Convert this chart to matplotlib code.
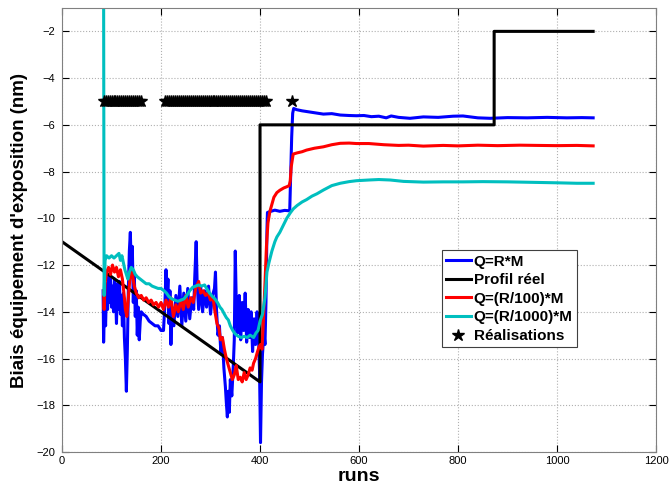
import matplotlib
matplotlib.use("Agg")
import matplotlib.pyplot as plt

plt.rcParams['font.family'] = ['Liberation Sans', 'DejaVu Sans']

# Q=R*M
blue_x = [83, 84, 86, 88, 90, 92, 94, 96, 98, 100, 102, 104, 106, 108, 110, 112, 114, 116, 118, 120,
          122, 124, 126, 128, 130, 132, 134, 136, 138, 140, 142, 144, 146, 148, 150, 152, 154, 156, 158, 160,
          164, 170, 176, 182, 188, 194, 200, 205, 208, 210, 212, 214, 216, 218, 220, 222, 226, 230, 234, 238,
          242, 246, 250, 254, 258, 262, 266, 268, 271, 273, 276, 280, 284, 288, 292, 296, 300, 304, 308, 310,
          312, 315, 318, 321, 324, 327, 330, 332, 334, 336, 338, 340, 343, 346, 348, 350, 352, 355, 358, 361,
          364, 367, 370, 373, 376, 379, 382, 385, 388, 391, 394, 397, 399, 401, 403, 405, 408, 410, 412, 413,
          414, 415, 422, 430, 440, 450, 460, 462, 464, 466, 468, 474, 485, 500, 515, 528, 545, 562, 580, 595,
          610, 625, 640, 655, 665, 680, 703, 730, 760, 790, 810, 840, 865, 900, 940, 980, 1020, 1050, 1073]
blue_y = [-13.1, -15.3, -13.5, -14.6, -12.8, -13.9, -12.4, -13.6, -12.6, -13.8, -12.9, -14.0, -12.6, -13.2, -14.5, -12.8, -13.9, -12.7, -14.1, -13.3,
          -14.6, -13.2, -15.1, -16.0, -17.4, -15.6, -13.0, -11.4, -10.6, -12.2, -11.2, -13.6, -12.4, -14.2, -13.1, -15.0, -13.8, -15.2, -14.4, -14.0,
          -14.1, -14.2, -14.4, -14.5, -14.6, -14.6, -14.8, -14.8, -13.6, -12.2, -13.4, -12.6, -14.5, -13.1, -15.4, -13.8, -14.6, -13.3, -14.2, -12.9,
          -14.6, -13.2, -14.4, -13.0, -14.3, -13.4, -13.9, -12.6, -11.0, -12.8, -13.9, -12.9, -14.0, -13.1, -13.8, -12.9, -14.1, -13.3, -13.0, -12.3,
          -13.9, -15.0, -14.6, -15.8, -15.1, -16.4, -17.2, -17.9, -18.5, -17.4, -18.3, -16.9, -17.6, -16.3, -15.2, -11.4, -13.6, -14.9, -13.3, -15.2,
          -13.6, -14.8, -13.2, -15.3, -13.9, -15.1, -14.0, -15.7, -14.3, -15.4, -14.0, -15.1, -16.5, -19.6, -17.0, -15.8, -14.9, -15.4, -13.6, -12.2,
          -10.5, -9.75, -9.7, -9.65, -9.7, -9.66, -9.68, -8.0, -6.5, -5.5, -5.3, -5.35, -5.4, -5.45, -5.5, -5.54, -5.52, -5.58, -5.6, -5.61,
          -5.6, -5.65, -5.63, -5.7, -5.62, -5.68, -5.72, -5.66, -5.68, -5.63, -5.62, -5.7, -5.72, -5.69, -5.7, -5.68, -5.7, -5.69, -5.7]

# Profil reel
prof_x = [0, 400, 400, 873, 873, 1073]
prof_y = [-11, -17, -6, -6, -2, -2]

# Q=(R/100)*M
red_x = [84, 85, 87, 90, 94, 98, 102, 106, 110, 114, 118, 122, 126, 128, 131, 134, 137, 140, 143, 146,
         150, 155, 160, 165, 170, 175, 180, 185, 190, 195, 200, 205, 210, 215, 220, 225, 230, 235, 240, 245,
         250, 255, 260, 265, 270, 276, 280, 285, 290, 295, 300, 305, 309, 313, 317, 320, 324, 328, 332, 336,
         340, 344, 348, 352, 356, 360, 364, 368, 372, 376, 380, 384, 387, 391, 395, 398, 401, 404, 407, 410,
         413, 416, 420, 424, 428, 434, 440, 448, 454, 459, 461, 463, 467, 475, 485, 494, 510, 528, 545, 562,
         580, 595, 620, 650, 680, 700, 730, 770, 800, 840, 880, 925, 960, 1000, 1040, 1073]
red_y = [-13.1, -13.9, -12.8, -12.3, -12.1, -12.4, -12.0, -12.3, -12.1, -12.5, -12.2, -12.6, -13.4, -13.9, -14.2, -13.4, -12.6, -12.3, -12.5, -12.9,
         -13.2, -13.4, -13.3, -13.5, -13.4, -13.6, -13.5, -13.7, -13.6, -13.8, -13.6, -13.9, -13.5, -13.8, -13.4, -14.2, -13.7, -14.0, -13.5, -13.9,
         -13.3, -13.8, -13.4, -13.6, -13.0, -12.7, -13.2, -13.1, -13.3, -13.2, -13.5, -13.4, -14.0, -14.5, -14.7, -15.2, -15.1, -15.6, -16.0, -16.3,
         -16.6, -16.9, -16.7, -16.3, -16.9, -16.8, -17.0, -16.6, -16.9, -16.7, -16.4, -16.5, -16.2, -16.0, -15.7, -15.5, -15.4, -15.6, -14.3, -12.8,
         -11.2, -10.2, -9.7, -9.4, -9.1, -8.9, -8.8, -8.7, -8.65, -8.6, -8.4, -7.8, -7.25, -7.2, -7.15, -7.08, -7.0, -6.94, -6.85, -6.79,
         -6.78, -6.8, -6.8, -6.85, -6.88, -6.87, -6.91, -6.88, -6.9, -6.87, -6.89, -6.87, -6.88, -6.89, -6.88, -6.9]

# Q=(R/1000)*M
cyan_x = [84, 85, 87, 90, 95, 100, 105, 110, 115, 118, 121, 124, 127, 130, 133, 136, 140, 144, 148, 152,
          158, 164, 170, 176, 182, 188, 194, 200, 206, 211, 216, 222, 228, 234, 240, 246, 252, 258, 264, 270,
          276, 282, 288, 292, 298, 304, 309, 314, 319, 323, 328, 332, 336, 340, 345, 350, 356, 362, 368, 374,
          380, 387, 392, 396, 400, 405, 410, 414, 418, 424, 430, 434, 440, 447, 454, 461, 467, 475, 485, 494,
          505, 515, 528, 545, 562, 580, 595, 620, 640, 663, 690, 730, 770, 810, 850, 900, 950, 1000, 1040, 1073]
cyan_y = [0.0, -13.3, -11.8, -11.6, -11.7, -11.6, -11.7, -11.6, -11.5, -11.8, -11.6, -11.9, -12.2, -12.4, -12.6, -12.3, -12.1, -12.2, -12.4, -12.5,
          -12.6, -12.7, -12.8, -12.8, -12.9, -12.95, -13.0, -13.0, -13.1, -13.2, -13.35, -13.45, -13.5, -13.55, -13.5, -13.45, -13.3, -13.1, -12.95, -12.9,
          -12.85, -12.9, -12.85, -13.0, -13.2, -13.35, -13.45, -13.6, -13.8, -13.9, -14.1, -14.25, -14.35, -14.6, -14.8, -14.95, -15.05, -15.1, -15.05, -15.1,
          -15.0, -15.1, -14.9, -14.8, -14.4, -14.1, -13.4, -12.3, -11.9, -11.4, -11.0, -10.8, -10.6, -10.3, -10.0, -9.77, -9.6, -9.45, -9.3, -9.2,
          -9.05, -8.95, -8.79, -8.6, -8.5, -8.43, -8.39, -8.36, -8.34, -8.36, -8.42, -8.45, -8.44, -8.44, -8.43, -8.44, -8.46, -8.48, -8.5, -8.5]

# Realisations
star_x = [84, 88, 92, 96, 100, 104, 108, 112, 116, 120, 124, 128, 132, 136, 140, 144, 148, 152, 156, 160,
          208, 212, 216, 220, 224, 228, 232, 236, 240, 244, 248, 252, 256, 260, 264, 268, 272, 276, 280, 284,
          288, 292, 296, 300, 304, 308, 312, 316, 320, 324, 328, 332, 336, 340, 344, 348, 352, 356, 360, 364,
          368, 372, 376, 380, 384, 388, 392, 396, 400, 404, 408, 412, 464]
star_y = [-5] * len(star_x)

fig = plt.figure(figsize=(6.72, 4.91), dpi=100)
ax = fig.add_axes([0.0923, 0.0794, 0.8839, 0.9043])

lw = 2.2
ax.plot(blue_x, blue_y, color='#0000ff', lw=lw, label='Q=R*M')
ax.plot(prof_x, prof_y, color='black', lw=lw, label='Profil réel')
ax.plot(red_x, red_y, color='#ff0000', lw=lw, label='Q=(R/100)*M')
ax.plot(cyan_x, cyan_y, color='#00bfbf', lw=lw, label='Q=(R/1000)*M')
ax.plot(star_x, star_y, linestyle='none', marker='*', color='black', markersize=9,
        label='Réalisations')

ax.set_xlim(0, 1200)
ax.set_ylim(-20, -1)
ax.set_xticks(range(0, 1201, 200))
ax.set_yticks(range(-20, -1, 2))
ax.grid(True, linestyle=':', color='#b0b0b0', linewidth=0.8)
ax.tick_params(direction='in', top=True, right=True, length=5, labelsize=8, colors='black')
ax.tick_params(axis='y', pad=5)
ax.tick_params(axis='x', pad=3)
for s in ax.spines.values():
    s.set_color('#808080')

ax.set_xlabel('runs', fontsize=14, fontweight='bold', labelpad=1)
ax.set_ylabel("Biais équipement d'exposition (nm)", fontsize=13.5, fontweight='bold')
ax.yaxis.set_label_coords(-0.057, 0.5)

leg = ax.legend(loc='upper left', bbox_to_anchor=(0.639, 0.455),
                prop={'weight': 'bold', 'size': 11}, handlelength=1.6, handletextpad=0.2,
                borderpad=0.3, labelspacing=0.3, borderaxespad=0, fancybox=False, framealpha=1)
leg.get_frame().set_edgecolor('#404040')
leg.get_frame().set_linewidth(0.8)

fig.savefig('out.png', dpi=100)
